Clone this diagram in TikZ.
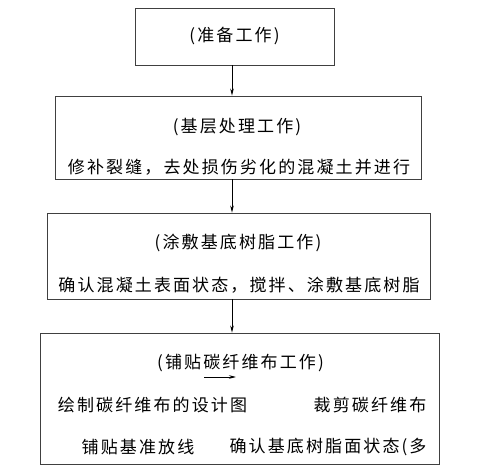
\documentclass[tikz,border=0pt]{standalone}
\usepackage{fontspec}
\newfontfamily\cjkfont[LetterSpace=12.5]{Noto Sans CJK SC}
\usetikzlibrary{positioning,arrows.meta}

\begin{document}
\begin{tikzpicture}[
  x=1pt, y=-1pt,
  font=\cjkfont\fontsize{17}{18}\selectfont,
  box/.style={draw=black!75, line width=0.9pt, inner sep=0pt},
  txt/.style={inner sep=0pt, anchor=center},
  arr/.style={-{Stealth[length=7pt,width=3.5pt]}, line width=0.8pt}
]
\useasboundingbox (0,0) rectangle (480,476);
% boxes
\node[box, minimum width=199pt, minimum height=57pt] (prep) at (234.5,36.5) {};
\node[box, minimum width=366pt, minimum height=83pt] (base) at (238,137.5) {};
\node[box, minimum width=383pt, minimum height=86pt] (coat) at (238.5,256) {};
\node[box, minimum width=399pt, minimum height=131pt] (paste) at (239.5,398.5) {};
% texts
\node[txt] (prep title) at (prep) {(准备工作)};
\node[txt] (base title) at (237,127) {(基层处理工作)};
\node[txt] (base step) at (239,167) {修补裂缝，去处损伤劣化的混凝土并进行};
\node[txt] (coat title) at (238,243) {(涂敷基底树脂工作)};
\node[txt] (coat step) at (239,285) {确认混凝土表面状态，搅拌、涂敷基底树脂};
\node[txt] (paste title) at (240.5,363) {(铺贴碳纤维布工作)};
\node[txt] (design) at (152.5,405) {绘制碳纤维布的设计图};
\node[txt] (cut) at (370,405) {裁剪碳纤维布};
\node[txt] (lay) at (138,447) {铺贴基准放线};
\node[txt] (check) at (328,447) {确认基底树脂面状态(多};
% connectors
\draw[arr] ([xshift=-2.5pt]prep.south) -- ([xshift=-2.5pt]prep.south |- base.north);
\draw[arr] ([xshift=-2.5pt]prep.south |- base.south) -- ([xshift=-2.5pt]prep.south |- coat.north);
\draw[arr] ([xshift=-2.5pt]prep.south |- coat.south) -- ([xshift=-2.5pt]prep.south |- paste.north);
\coordinate (flow a) at (204,377);
\coordinate (flow b) at (236,377);
\draw[arr] (flow a) -- (flow b);
\end{tikzpicture}
\end{document}
